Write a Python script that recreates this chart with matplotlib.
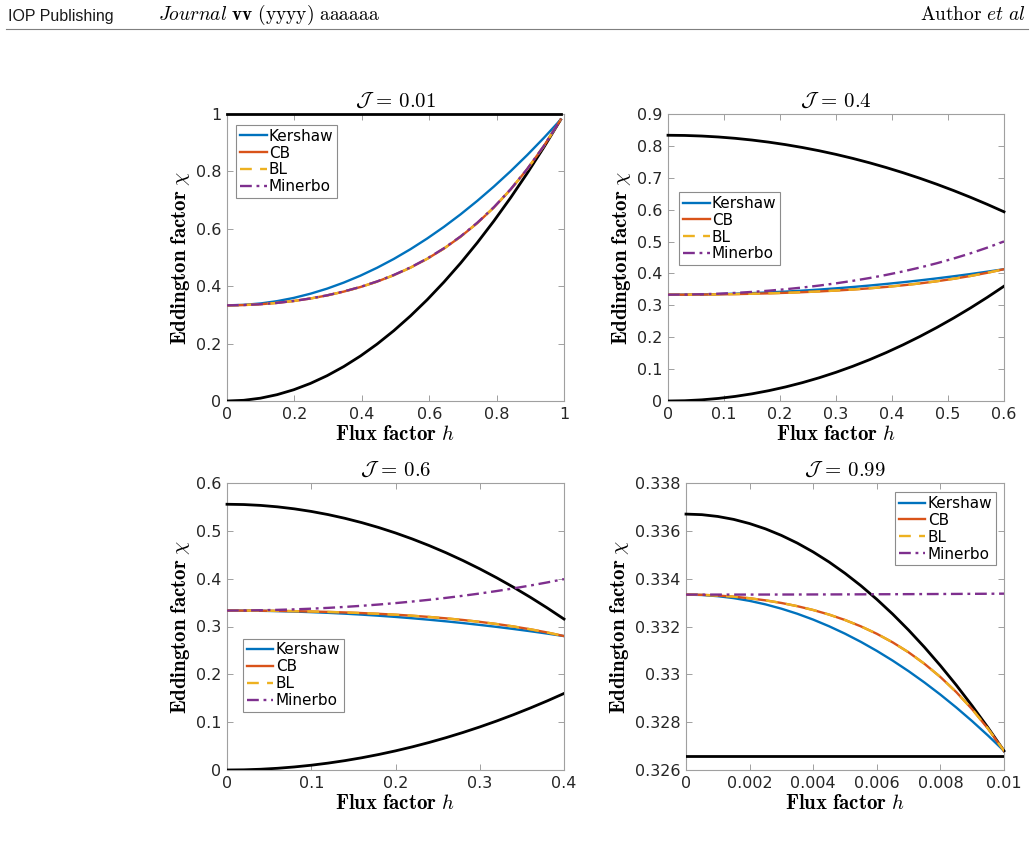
import matplotlib
matplotlib.use("Agg")
import matplotlib.pyplot as plt
from matplotlib.ticker import FuncFormatter

plt.rcParams['mathtext.fontset'] = 'cm'
plt.rcParams['font.family'] = ['DejaVu Sans']

# ---------------- data ----------------
titles = [r'$\mathcal{J}\,=\,0.01$', r'$\mathcal{J}\,=\,0.4$',
          r'$\mathcal{J}\,=\,0.6$', r'$\mathcal{J}\,=\,0.99$']
legend_labels = ['Kershaw', 'CB', 'BL', 'Minerbo']

# J = 0.01
h_a = [0.0, 0.0495, 0.099, 0.1485, 0.198, 0.2475, 0.297, 0.3465, 0.396, 0.4455, 0.495,
       0.5445, 0.594, 0.6435, 0.693, 0.7425, 0.792, 0.8415, 0.891, 0.9405, 0.99]
upper_a = [1.0, 1.0, 1.0, 1.0, 1.0, 1.0, 1.0, 1.0, 1.0, 1.0, 1.0,
           1.0, 1.0, 1.0, 1.0, 1.0, 1.0, 1.0, 1.0, 1.0, 1.0]
lower_a = [0.0, 0.00245, 0.0098, 0.02205, 0.0392, 0.06126, 0.0882, 0.12006, 0.1568, 0.19847, 0.2450,
           0.29648, 0.3528, 0.41409, 0.4802, 0.55131, 0.6273, 0.70812, 0.7939, 0.88454, 0.9801]
kershaw_a = [0.3333, 0.3350, 0.3398, 0.3479, 0.3592, 0.3738, 0.3915, 0.4126, 0.4368, 0.4643, 0.4950,
             0.5290, 0.5662, 0.6066, 0.6503, 0.6972, 0.7473, 0.8006, 0.8572, 0.9171, 0.9801]
cb_a = [0.3333, 0.3343, 0.3371, 0.3418, 0.3484, 0.3571, 0.3679, 0.3812, 0.3971, 0.4160, 0.4384,
        0.4647, 0.4954, 0.5310, 0.5723, 0.6198, 0.6744, 0.7369, 0.8080, 0.8888, 0.9801]
bl_a = [0.3333, 0.3343, 0.3371, 0.3418, 0.3484, 0.3571, 0.3679, 0.3812, 0.3971, 0.4160, 0.4384,
        0.4647, 0.4954, 0.5310, 0.5723, 0.6198, 0.6744, 0.7369, 0.8080, 0.8888, 0.9801]
minerbo_a = [0.3333, 0.3343, 0.3372, 0.3419, 0.3486, 0.3573, 0.3682, 0.3816, 0.3976, 0.4167, 0.4392,
             0.4656, 0.4963, 0.5320, 0.5733, 0.6209, 0.6754, 0.7377, 0.8087, 0.8892, 0.9802]

# J = 0.4
h_b = [0.0, 0.03, 0.06, 0.09, 0.12, 0.15, 0.18, 0.21, 0.24, 0.27, 0.30,
       0.33, 0.36, 0.39, 0.42, 0.45, 0.48, 0.51, 0.54, 0.57, 0.60]
upper_b = [0.83333, 0.83273, 0.83093, 0.82793, 0.82373, 0.81833, 0.81173, 0.80393, 0.79493, 0.78473, 0.77333,
           0.76073, 0.74693, 0.73193, 0.71573, 0.69833, 0.67973, 0.65993, 0.63893, 0.61673, 0.59333]
lower_b = [0.0, 0.0009, 0.0036, 0.0081, 0.0144, 0.0225, 0.0324, 0.0441, 0.0576, 0.0729, 0.09,
           0.1089, 0.1296, 0.1521, 0.1764, 0.2025, 0.2304, 0.2601, 0.2916, 0.3249, 0.36]
kershaw_b = [0.33333, 0.33353, 0.33413, 0.33513, 0.33653, 0.33833, 0.34053, 0.34313, 0.34613, 0.34953, 0.35333,
             0.35753, 0.36213, 0.36713, 0.37253, 0.37833, 0.38453, 0.39113, 0.39813, 0.40553, 0.41333]
cb_b = [0.33333, 0.33345, 0.33380, 0.33438, 0.33520, 0.33627, 0.33761, 0.33925, 0.34122, 0.34356, 0.34633,
        0.34958, 0.35338, 0.35779, 0.36289, 0.36877, 0.37552, 0.38324, 0.39204, 0.40203, 0.41333]
bl_b = [0.33333, 0.33345, 0.33380, 0.33438, 0.33520, 0.33627, 0.33761, 0.33925, 0.34122, 0.34356, 0.34633,
        0.34958, 0.35338, 0.35779, 0.36289, 0.36877, 0.37552, 0.38324, 0.39204, 0.40203, 0.41333]
minerbo_b = [0.33333, 0.33369, 0.33475, 0.33650, 0.33895, 0.34209, 0.34594, 0.35052, 0.35586, 0.36199, 0.36897,
             0.37685, 0.38567, 0.39552, 0.40646, 0.41859, 0.43198, 0.44675, 0.46299, 0.48082, 0.50037]

# J = 0.6
h_c = [0.0, 0.02, 0.04, 0.06, 0.08, 0.10, 0.12, 0.14, 0.16, 0.18, 0.20,
       0.22, 0.24, 0.26, 0.28, 0.30, 0.32, 0.34, 0.36, 0.38, 0.40]
upper_c = [0.55556, 0.55496, 0.55316, 0.55016, 0.54596, 0.54056, 0.53396, 0.52616, 0.51716, 0.50696, 0.49556,
           0.48296, 0.46916, 0.45416, 0.43796, 0.42056, 0.40196, 0.38216, 0.36116, 0.33896, 0.31556]
lower_c = [0.0, 0.0004, 0.0016, 0.0036, 0.0064, 0.01, 0.0144, 0.0196, 0.0256, 0.0324, 0.04,
           0.0484, 0.0576, 0.0676, 0.0784, 0.09, 0.1024, 0.1156, 0.1296, 0.1444, 0.16]
kershaw_c = [0.33333, 0.33320, 0.33280, 0.33213, 0.33120, 0.33000, 0.32853, 0.32680, 0.32480, 0.32253, 0.32000,
             0.31720, 0.31413, 0.31080, 0.30720, 0.30333, 0.29920, 0.29480, 0.29013, 0.28520, 0.28000]
cb_c = [0.33333, 0.33325, 0.33302, 0.33263, 0.33209, 0.33138, 0.33048, 0.32939, 0.32808, 0.32651, 0.32467,
        0.32250, 0.31997, 0.31703, 0.31363, 0.30971, 0.30521, 0.30006, 0.29419, 0.28753, 0.28000]
bl_c = [0.33333, 0.33325, 0.33302, 0.33263, 0.33209, 0.33138, 0.33048, 0.32939, 0.32808, 0.32651, 0.32467,
        0.32250, 0.31997, 0.31703, 0.31363, 0.30971, 0.30521, 0.30006, 0.29419, 0.28753, 0.28000]
minerbo_c = [0.33333, 0.33349, 0.33397, 0.33475, 0.33584, 0.33724, 0.33895, 0.34096, 0.34329, 0.34594, 0.34891,
             0.35221, 0.35586, 0.35986, 0.36423, 0.36897, 0.37412, 0.37968, 0.38567, 0.39212, 0.39904]

# J = 0.99
h_d = [0.0, 0.0005, 0.001, 0.0015, 0.002, 0.0025, 0.003, 0.0035, 0.004, 0.0045, 0.005,
       0.0055, 0.006, 0.0065, 0.007, 0.0075, 0.008, 0.0085, 0.009, 0.0095, 0.010]
upper_d = [0.336700, 0.336676, 0.336601, 0.336478, 0.336304, 0.336082, 0.335809, 0.335488, 0.335116, 0.334696, 0.334225,
           0.333706, 0.333136, 0.332518, 0.331849, 0.331132, 0.330364, 0.329548, 0.328681, 0.327766, 0.326800]
lower_d = [0.326599, 0.326599, 0.326599, 0.326599, 0.326599, 0.326599, 0.326599, 0.326599, 0.326599, 0.326599, 0.326599,
           0.326599, 0.326599, 0.326599, 0.326599, 0.326599, 0.326599, 0.326599, 0.326599, 0.326599, 0.326599]
kershaw_d = [0.333333, 0.333317, 0.333268, 0.333186, 0.333072, 0.332925, 0.332745, 0.332533, 0.332288, 0.332010, 0.331700,
             0.331357, 0.330981, 0.330573, 0.330132, 0.329658, 0.329152, 0.328613, 0.328041, 0.327437, 0.326800]
cb_d = [0.333333, 0.333324, 0.333295, 0.333248, 0.333181, 0.333093, 0.332984, 0.332850, 0.332689, 0.332498, 0.332272,
        0.332006, 0.331696, 0.331336, 0.330920, 0.330439, 0.329888, 0.329257, 0.328539, 0.327723, 0.326800]
bl_d = [0.333333, 0.333324, 0.333295, 0.333248, 0.333181, 0.333093, 0.332984, 0.332850, 0.332689, 0.332498, 0.332272,
        0.332006, 0.331696, 0.331336, 0.330920, 0.330439, 0.329888, 0.329257, 0.328539, 0.327723, 0.326800]
minerbo_d = [0.333333, 0.333333, 0.333334, 0.333334, 0.333335, 0.333336, 0.333337, 0.333338, 0.333340, 0.333341, 0.333343,
             0.333345, 0.333348, 0.333350, 0.333353, 0.333356, 0.333359, 0.333362, 0.333366, 0.333369, 0.333373]

# axis settings
xlims = [(0, 1), (0, 0.6), (0, 0.4), (0, 0.01)]
ylims = [(0, 1), (0, 0.9), (0, 0.6), (0.326, 0.338)]
xticks = [[0, 0.2, 0.4, 0.6, 0.8, 1], [0, 0.1, 0.2, 0.3, 0.4, 0.5, 0.6],
          [0, 0.1, 0.2, 0.3, 0.4], [0, 0.002, 0.004, 0.006, 0.008, 0.01]]
yticks = [[0, 0.2, 0.4, 0.6, 0.8, 1], [0, 0.1, 0.2, 0.3, 0.4, 0.5, 0.6, 0.7, 0.8, 0.9],
          [0, 0.1, 0.2, 0.3, 0.4, 0.5, 0.6],
          [0.326, 0.328, 0.33, 0.332, 0.334, 0.336, 0.338]]

panels = [
    (h_a, upper_a, lower_a, kershaw_a, cb_a, bl_a, minerbo_a),
    (h_b, upper_b, lower_b, kershaw_b, cb_b, bl_b, minerbo_b),
    (h_c, upper_c, lower_c, kershaw_c, cb_c, bl_c, minerbo_c),
    (h_d, upper_d, lower_d, kershaw_d, cb_d, bl_d, minerbo_d),
]

# ---------------- layout ----------------
W, H = 1034, 847
fig = plt.figure(figsize=(W / 100, H / 100), dpi=100)

def px_axes(l, t, r, b):
    return fig.add_axes([l / W, 1 - b / H, (r - l) / W, (b - t) / H])

boxes = [(227, 114, 564, 401), (668, 114, 1004, 401),
         (227, 483, 564, 770), (686, 483, 1004, 770)]
legend_pos = [(0.027, 0.962), (0.033, 0.728), (0.047, 0.458), (0.657, 0.968)]

c_k, c_cb, c_bl, c_m = '#0072BD', '#D95319', '#EDB120', '#7E2F8E'
spine_c = '#a0a0a0'
tick_c = '#262626'

def fmt(v, pos):
    s = ('%.3f' % v).rstrip('0').rstrip('.')
    return s if s != '-0' else '0'

for i, (box, data) in enumerate(zip(boxes, panels)):
    ax = px_axes(*box)
    h, up, lo, k, cb, bl, mi = data
    ax.plot(h, up, color='black', lw=2.0, zorder=3, clip_on=False)
    ax.plot(h, lo, color='black', lw=2.0, zorder=3)
    lk, = ax.plot(h, k, color=c_k, lw=1.7, label=legend_labels[0], zorder=4)
    lc, = ax.plot(h, cb, color=c_cb, lw=1.7, label=legend_labels[1], zorder=5)
    lb, = ax.plot(h, bl, color=c_bl, lw=1.7, ls=(0, (5, 3.5)), label=legend_labels[2], zorder=6)
    lm, = ax.plot(h, mi, color=c_m, lw=1.7, ls=(0, (5, 2, 1.2, 2)), label=legend_labels[3], zorder=7)
    ax.set_xlim(*xlims[i])
    ax.set_ylim(*ylims[i])
    ax.set_xticks(xticks[i])
    ax.set_yticks(yticks[i])
    ax.xaxis.set_major_formatter(FuncFormatter(fmt))
    ax.yaxis.set_major_formatter(FuncFormatter(fmt))
    ax.tick_params(direction='in', top=True, right=True, length=4, width=0.7,
                   color=spine_c, labelcolor=tick_c, labelsize=11.5, pad=4)
    for sp in ax.spines.values():
        sp.set_color(spine_c)
        sp.set_linewidth(0.8)
    ax.set_title(titles[i], fontsize=15, pad=5)
    ax.set_xlabel(r'$\mathbf{Flux\ factor}\ h$', fontsize=15, labelpad=2)
    ax.set_ylabel(r'$\mathbf{Eddington\ factor}\ \chi$', fontsize=15, labelpad=3)
    leg = ax.legend(handles=[lk, lc, lb, lm], loc='upper left',
                    bbox_to_anchor=legend_pos[i], fontsize=11, frameon=True,
                    fancybox=False, framealpha=1, edgecolor='#8c8c8c',
                    borderpad=0.25, labelspacing=0.12, handlelength=1.75,
                    handletextpad=0.15, borderaxespad=0)
    leg.get_frame().set_linewidth(0.8)
    leg.set_zorder(10)

# ---------------- page header ----------------
fig.text(8 / W, 1 - 16 / H, 'IOP Publishing', fontsize=11.5, family='Liberation Sans',
         va='center', ha='left', color='#1a1a1a')
fig.text(158 / W, 1 - 15 / H, r'$\mathit{Journal}\ \mathbf{vv}\ \mathrm{(yyyy)\ aaaaaa}$',
         fontsize=14, va='center', ha='left')
fig.text(1026 / W, 1 - 15 / H, r'$\mathrm{Author}\ \mathit{et\ al}$', fontsize=14,
         va='center', ha='right')
fig.add_artist(plt.Line2D([6 / W, 1028 / W], [1 - 29 / H, 1 - 29 / H],
                          transform=fig.transFigure, color='#7f7f7f', lw=0.8))

fig.savefig('out.png', dpi=100, facecolor='white')
